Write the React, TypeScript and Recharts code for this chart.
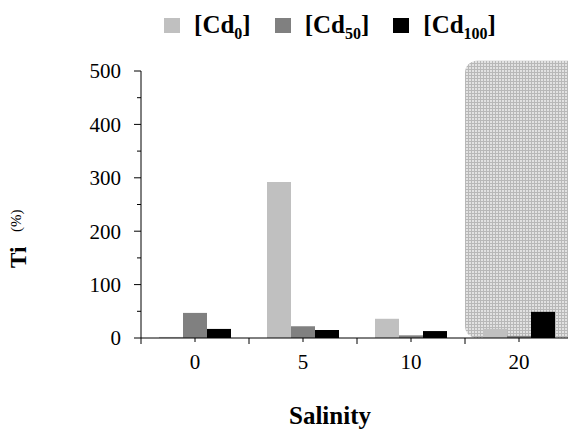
import React from 'react';
import {
  BarChart,
  Bar,
  XAxis,
  YAxis,
  Legend,
  ReferenceArea,
  Label
} from 'recharts';

const salinity = ['0', '5', '10', '20'];
const cd0 = [2, 292, 36, 17];
const cd50 = [47, 22, 5, 4];
const cd100 = [17, 15, 13, 49];
const yTicks = [0, 50, 100, 150, 200, 250, 300, 350, 400, 450, 500];
const seriesSubs = ['0', '50', '100'];
const seriesColors = ['#c0c0c0', '#808080', '#000000'];

const FONT = "'Liberation Serif', 'Times New Roman', serif";

const data = salinity.map((s, i) => ({
  salinity: s,
  cd0: cd0[i],
  cd50: cd50[i],
  cd100: cd100[i]
}));

const YTick = (props: any) => {
  const { x, y, payload } = props;
  const major = payload.value % 100 === 0;
  return (
    <g>
      <line x1={x - (major ? 7 : 4)} x2={x} y1={y} y2={y} stroke="#000" />
      {major && (
        <text x={x - 20} y={y} dy="0.35em" textAnchor="end" fontFamily={FONT} fontSize={21} fill="#000">
          {payload.value}
        </text>
      )}
    </g>
  );
};

const XTick = (props: any) => {
  const { x, y, payload, index } = props;
  const half = payload.offset ?? 54;
  return (
    <g>
      <line x1={x} x2={x} y1={y} y2={y + 4} stroke="#000" />
      <line x1={x - half} x2={x - half} y1={y} y2={y + 6} stroke="#000" />
      {index === salinity.length - 1 && (
        <line x1={x + half} x2={x + half} y1={y} y2={y + 6} stroke="#000" />
      )}
      <text x={x} y={y + 31} textAnchor="middle" fontFamily={FONT} fontSize={21} fill="#000">
        {payload.value}
      </text>
    </g>
  );
};

// rounded, dotted box behind the last group
const ShadeBox = (props: any) => {
  const { x, y, width, height } = props;
  return <rect x={x} y={y} width={width + 20} height={height} rx={12} ry={12} fill="url(#dots)" />;
};

const renderLegend = () => (
  <div
    style={{
      display: 'flex',
      justifyContent: 'center',
      alignItems: 'baseline',
      width: 660,
      fontFamily: FONT,
      fontWeight: 'bold',
      fontSize: 25,
      color: '#000'
    }}
  >
    {seriesSubs.map((sub, i) => (
      <span key={sub} style={{ display: 'inline-flex', alignItems: 'baseline', marginRight: i < 2 ? 24 : 0 }}>
        <span style={{ display: 'inline-block', width: 16, height: 15, background: seriesColors[i], marginRight: 14 }} />
        <span>
          [Cd<sub style={{ fontSize: 16 }}>{sub}</sub>]
        </span>
      </span>
    ))}
  </div>
);

export default function App() {
  return (
    <div style={{ position: 'fixed', left: 0, top: 0, width: 568, height: 430, overflow: 'hidden', background: '#fff' }}>
      <BarChart
        width={580}
        height={430}
        data={data}
        margin={{ top: 71, right: 7, bottom: 52, left: 0 }}
        barSize={24}
        barGap={0}
      >
        <defs>
          <pattern id="dots" width={3} height={3} patternUnits="userSpaceOnUse">
            <rect width={3} height={3} fill="#e2e2e2" />
            <rect width={3} height={1} fill="#b8b8b8" />
            <rect width={1} height={3} fill="#b8b8b8" />
          </pattern>
        </defs>
        <ReferenceArea
          x1="20"
          x2="20"
          y1={0}
          y2={519}
          ifOverflow="visible"
          shape={ShadeBox}
        />
        <XAxis
          dataKey="salinity"
          height={40}
          axisLine={{ stroke: '#000' }}
          tickLine={false}
          tickSize={0}
          tickMargin={0}
          tick={<XTick />}
          interval={0}
        >
          <Label
            content={() => (
              <text x={330} y={424} textAnchor="middle" fontFamily={FONT} fontWeight="bold" fontSize={25} fill="#000">
                Salinity
              </text>
            )}
          />
        </XAxis>
        <YAxis
          type="number"
          domain={[0, 500]}
          ticks={yTicks}
          interval={0}
          width={141}
          axisLine={{ stroke: '#000' }}
          tickLine={false}
          tickSize={0}
          tickMargin={0}
          tick={<YTick />}
        />
        <text x={0} y={0} transform="translate(26,268) rotate(-90)" fontFamily={FONT} fontWeight="bold" fontSize={23} fill="#000">
          Ti
        </text>
        <text x={0} y={0} transform="translate(21,232) rotate(-90)" fontFamily={FONT} fontSize={15} fill="#000">
          (%)
        </text>
        <Legend
          verticalAlign="middle"
          align="center"
          content={renderLegend}
          wrapperStyle={{ top: 11, left: 0, width: 660 }}
        />
        <Bar dataKey="cd0" fill={seriesColors[0]} isAnimationActive={false} />
        <Bar dataKey="cd50" fill={seriesColors[1]} isAnimationActive={false} />
        <Bar dataKey="cd100" fill={seriesColors[2]} isAnimationActive={false} />
      </BarChart>
    </div>
  );
}
